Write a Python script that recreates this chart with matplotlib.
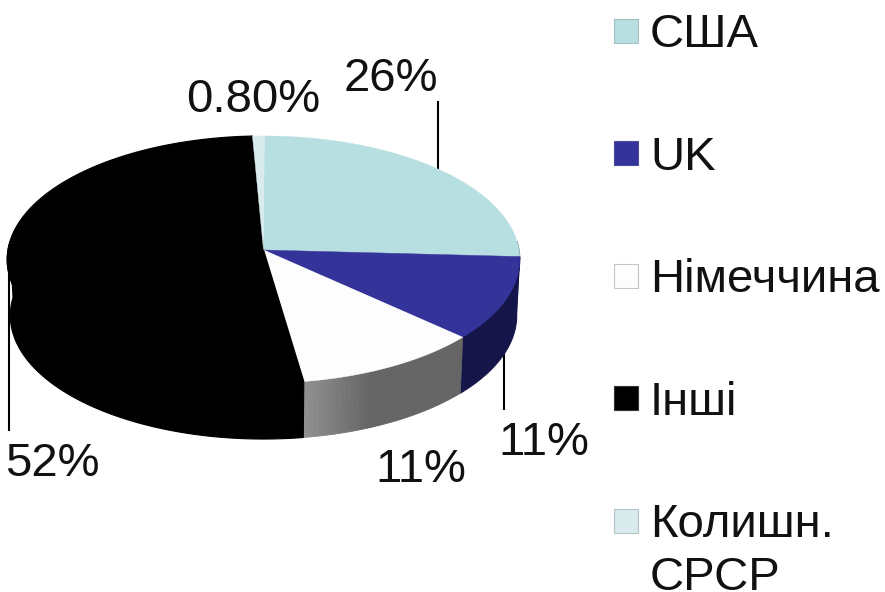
import numpy as np
import matplotlib
matplotlib.use("Agg")
import matplotlib.pyplot as plt
from matplotlib.colors import to_rgb
from matplotlib.patches import Rectangle

plt.rcParams['font.family'] = ['Liberation Sans', 'DejaVu Sans']

categories = ['США', 'UK', 'Німеччина', 'Інші', 'Колишн.\nСРСР']
shares = [26, 11, 11, 52, 0.8]
value_labels = ['26%', '11%', '11%', '52%', '0.80%']
top_colors = ['#B7DEE1', '#333399', '#FDFDFD', '#000000', '#DAEBEE']
side_colors = ['#5C6F70', '#15154A', None, '#000000', '#6E7676']
legend_edges = ['#A6BFC2', '#4A4AA0', '#C4C4C4', '#333333', '#B4C4C6']

W, H = 885, 592
CX, CY, RX, RY, K, DEPTH, SHRINK = 263.5, 250.0, 255.5, 122.8, 0.077, 56.0, 0.988
FS = 34.0

fig = plt.figure(figsize=(W / 100, H / 100), dpi=100)
ax = fig.add_axes([0, 0, 1, 1])
ax.set_xlim(0, W)
ax.set_ylim(H, 0)
ax.axis('off')


def project(theta, bottom=False):
    u, v = np.sin(theta), -np.cos(theta)
    s = 1 / (1 - K * v)
    if bottom:
        return CX + RX * SHRINK * u * s, CY + DEPTH + RY * v * s
    return CX + RX * u * s, CY + RY * v * s


fractions = np.array(shares) / np.sum(shares)
edges = np.concatenate([[0], np.cumsum(fractions)]) * 2 * np.pi + np.radians(0.2)

# side walls (only the front half of the rim is visible)
lo_vis, hi_vis = np.radians(86), np.radians(274)
for i in range(len(shares)):
    a, b = max(edges[i], lo_vis), min(edges[i + 1], hi_vis)
    if b <= a:
        continue
    if side_colors[i] is None:
        # shaded wall: lighter only near the front end of the pie
        steps = np.linspace(a, b, 41)
        dark, light = np.array(to_rgb('#656565')), np.array(to_rgb('#929292'))
        for t0, t1 in zip(steps[:-1], steps[1:]):
            f = np.clip(((t0 - a) / (b - a) - 0.62) / 0.38, 0, 1)
            col = dark + (light - dark) * f
            th = np.array([t0, t1])
            x1, y1 = project(th)
            x2, y2 = project(th[::-1], True)
            ax.fill(np.r_[x1, x2], np.r_[y1, y2], color=col, lw=0.6, zorder=2)
    else:
        th = np.linspace(a, b, 200)
        x1, y1 = project(th)
        x2, y2 = project(th[::-1], True)
        ax.fill(np.r_[x1, x2], np.r_[y1, y2], color=side_colors[i], lw=0.8, zorder=2)

# top faces
for i in range(len(shares)):
    th = np.linspace(edges[i], edges[i + 1], 300)
    x, y = project(th)
    ax.fill(np.r_[CX, x], np.r_[CY, y], color=top_colors[i],
            lw=0.9 if top_colors[i] == '#000000' else 0.3, zorder=3)

# leader lines
for lx, ly0, ly1 in [(438, 101, 169), (503.5, 351, 410), (9, 262, 431)]:
    ax.plot([lx, lx], [ly0, ly1], color='black', lw=1.5, zorder=1, solid_capstyle='butt')

# value labels
label_pos = [(344, 91), (498, 455), (375, 482), (5, 476), (186, 112)]
for txt, (lx, ly) in zip(value_labels, label_pos):
    ax.text(lx, ly, txt, fontsize=FS, color='#111111', ha='left', va='baseline', zorder=5)

# legend
box_tops = [19, 141, 264, 386, 509]
text_base = [47, 170, 292, 415, 537]
for cat, col, ec, by, ty in zip(categories, top_colors, legend_edges, box_tops, text_base):
    ax.add_patch(Rectangle((614, by), 24, 24, facecolor=col, edgecolor=ec, lw=0.8, zorder=5))
    parts = cat.split('\n')
    for j, part in enumerate(parts):
        ax.text(650, ty + j * 53, part, fontsize=FS, color='#111111', ha='left',
                va='baseline', zorder=5)

fig.savefig('out.png', dpi=100)
